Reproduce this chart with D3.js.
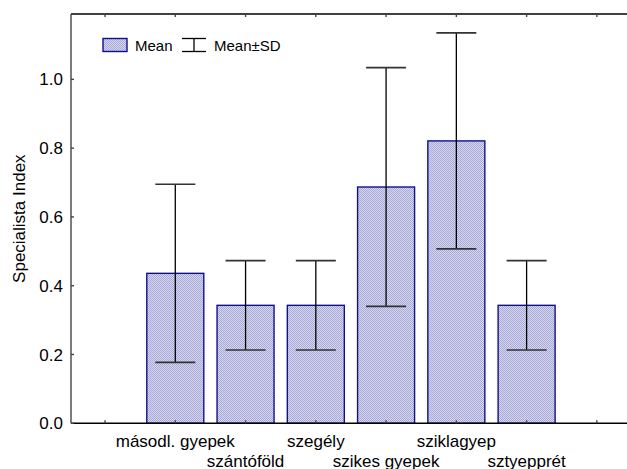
<!DOCTYPE html>
<html>
<head>
<meta charset="utf-8">
<script src="https://cdn.jsdelivr.net/npm/d3@7"></script>
<style>
  html, body { margin: 0; padding: 0; background: #fff; }
  svg { display: block; font-family: "Liberation Sans", Arial, sans-serif; }
</style>
</head>
<body>
<svg id="chart" width="627" height="469"></svg>
<script>
// Data
const slots = ["", "másodl. gyepek", "szántóföld", "szegély", "szikes gyepek", "sziklagyep", "sztyepprét", " "];
const categories = ["másodl. gyepek", "szántóföld", "szegély", "szikes gyepek", "sziklagyep", "sztyepprét"];
const means = [0.436, 0.343, 0.343, 0.687, 0.821, 0.343];
const sds = [0.259, 0.130, 0.130, 0.347, 0.314, 0.130];
const yTicks = [0.0, 0.2, 0.4, 0.6, 0.8, 1.0];
const yMax = 1.19;

(function () {
const svg = d3.select("#chart");
const pL = 71, pT = 14, pB = 423.3, pR = 633;

const x = d3.scaleBand().domain(slots).range([69.9, 632]).paddingInner(0.19).paddingOuter(0.095);
const xc = d => x(d) + x.bandwidth() / 2;
const y = d3.scaleLinear().domain([0, yMax]).range([pB, pT]);

// defs pattern
const defs = svg.append("defs");
const pat = defs.append("pattern").attr("id", "chk").attr("width", 2).attr("height", 2)
  .attr("patternUnits", "userSpaceOnUse");
pat.append("rect").attr("width", 2).attr("height", 2).attr("fill", "#d6d6ef");
pat.append("rect").attr("width", 1).attr("height", 1).attr("fill", "#a9a9d8");
pat.append("rect").attr("x", 1).attr("y", 1).attr("width", 1).attr("height", 1).attr("fill", "#a9a9d8");

// bars
const bw = 57;
svg.append("g").selectAll("rect").data(categories).join("rect")
  .attr("x", d => xc(d) - bw / 2)
  .attr("y", (d, i) => y(means[i]))
  .attr("width", bw)
  .attr("height", (d, i) => y(0) - y(means[i]))
  .attr("fill", "url(#chk)")
  .attr("stroke", "#10108a")
  .attr("stroke-width", 1.4);

// error bars
const eb = svg.append("g");
const capW = 40;
categories.forEach((c, i) => {
  const cx = xc(c);
  const hi = y(means[i] + sds[i]), lo = y(means[i] - sds[i]);
  eb.append("line").attr("x1", cx).attr("x2", cx).attr("y1", hi).attr("y2", lo)
    .attr("stroke", "#000").attr("stroke-width", 1.3);
  [hi, lo].forEach(v => eb.append("line").attr("x1", cx - capW / 2).attr("x2", cx + capW / 2)
    .attr("y1", v).attr("y2", v).attr("stroke", "#333").attr("stroke-width", 1.6));
});

// frame
svg.append("line").attr("x1", pL).attr("x2", pR).attr("y1", pT).attr("y2", pT)
  .attr("stroke", "#000").attr("stroke-width", 1.4);
svg.append("line").attr("x1", pL).attr("x2", pR).attr("y1", pB).attr("y2", pB)
  .attr("stroke", "#000").attr("stroke-width", 1.4);
svg.append("line").attr("x1", pL).attr("x2", pL).attr("y1", pT).attr("y2", pB)
  .attr("stroke", "#444").attr("stroke-width", 1.4);

// x ticks (inward, bottom and top)
const xt = svg.append("g");
slots.forEach(s => {
  const cx = xc(s);
  xt.append("line").attr("x1", cx).attr("x2", cx).attr("y1", pB).attr("y2", pB - 3).attr("stroke", "#444").attr("stroke-width", 1.4);
  xt.append("line").attr("x1", cx).attr("x2", cx).attr("y1", pT).attr("y2", pT + 3).attr("stroke", "#444").attr("stroke-width", 1.4);
});

// y axis ticks & labels
const ya = svg.append("g");
yTicks.forEach(t => {
  ya.append("line").attr("x1", pL).attr("x2", pL + 3).attr("y1", y(t)).attr("y2", y(t)).attr("stroke", "#444").attr("stroke-width", 1.4);
  ya.append("text").attr("x", 63).attr("y", y(t)).attr("dy", "0.36em")
    .attr("text-anchor", "end").attr("font-size", 17).attr("fill", "#000")
    .text(d3.format(".1f")(t));
});

// x labels, staggered
svg.append("g").selectAll("text").data(categories).join("text")
  .attr("x", d => xc(d))
  .attr("y", (d, i) => i % 2 === 0 ? 446.5 : 467)
  .attr("text-anchor", "middle").attr("font-size", 17).attr("fill", "#000")
  .text(d => d);

// y title
svg.append("text").attr("transform", `translate(25,${(pT + pB) / 2}) rotate(-90)`)
  .attr("text-anchor", "middle").attr("font-size", 17).attr("fill", "#000")
  .text("Specialista Index");

// legend
const lg = svg.append("g");
lg.append("rect").attr("x", 103).attr("y", 38.5).attr("width", 24).attr("height", 13)
  .attr("fill", "url(#chk)").attr("stroke", "#10108a").attr("stroke-width", 1.4);
lg.append("text").attr("x", 135).attr("y", 50.5).attr("font-size", 15).text("Mean");
lg.append("line").attr("x1", 182).attr("x2", 206).attr("y1", 38.5).attr("y2", 38.5).attr("stroke", "#000").attr("stroke-width", 1.3);
lg.append("line").attr("x1", 182).attr("x2", 206).attr("y1", 51.5).attr("y2", 51.5).attr("stroke", "#000").attr("stroke-width", 1.3);
lg.append("line").attr("x1", 194).attr("x2", 194).attr("y1", 38.5).attr("y2", 51.5).attr("stroke", "#000").attr("stroke-width", 1.3);
lg.append("text").attr("x", 214).attr("y", 50.5).attr("font-size", 15).text("Mean±SD");
})();
</script>
</body>
</html>
